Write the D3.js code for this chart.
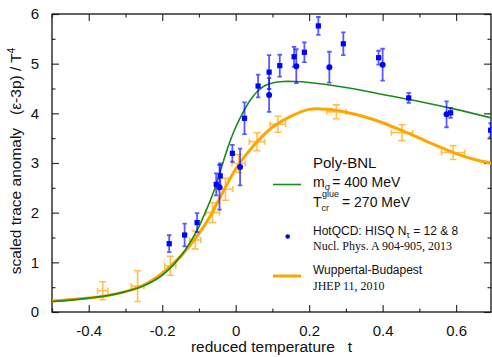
<!DOCTYPE html>
<html>
<head>
<meta charset="utf-8">
<script src="https://cdn.jsdelivr.net/npm/d3@7"></script>
<style>
  body { margin: 0; background: #fff; }
  text { font-family: "Liberation Sans", Arial, sans-serif; fill: #111; }
  .serif { font-family: "Liberation Serif", "Times New Roman", serif; }
</style>
</head>
<body>
<div id="chart"></div>
<script>
// HotQCD HISQ, squares
var sqT = [-0.181, -0.139, -0.105, -0.053, -0.042, -0.009, 0.024, 0.061, 0.091, 0.12, 0.159, 0.187, 0.225, 0.293, 0.389, 0.471, 0.585, 0.694];
var sqE = [1.375, 1.55, 1.80, 2.57, 2.74, 3.195, 3.90, 4.55, 4.83, 4.96, 5.14, 5.23, 5.76, 5.40, 5.12, 4.31, 4.01, 3.66];
var sqErr = [0.17, 0.23, 0.19, 0.22, 0.25, 0.17, 0.32, 0.23, 0.34, 0.22, 0.2, 0.2, 0.18, 0.23, 0.14, 0.1, 0.1, 0.14];
// HotQCD HISQ, circles
var ciT = [-0.044, 0.012, 0.091, 0.165, 0.255, 0.40, 0.574];
var ciE = [2.51, 2.92, 4.37, 4.95, 4.93, 4.98, 3.98];
var ciErr = [0.45, 0.37, 0.34, 0.34, 0.31, 0.32, 0.26];
// Wuppertal-Budapest points
var wbT = [-0.362, -0.267, -0.178, -0.11, -0.063, -0.028, 0.008, 0.058, 0.115, 0.274, 0.453, 0.592];
var wbE = [0.43, 0.52, 0.93, 1.45, 2.00, 2.47, 2.99, 3.43, 3.78, 4.03, 3.61, 3.21];
var wbEErr = [0.18, 0.31, 0.19, 0.18, 0.2, 0.22, 0.18, 0.18, 0.16, 0.14, 0.16, 0.14];
var wbTErr = [0.014, 0.017, 0.015, 0.015, 0.019, 0.02, 0.018, 0.021, 0.021, 0.026, 0.029, 0.032];
// curves
var polyT = [-0.5, -0.45, -0.4, -0.35, -0.3, -0.25, -0.2, -0.15, -0.12, -0.1, -0.08, -0.06, -0.04, -0.02, 0, 0.02, 0.04, 0.06, 0.08, 0.1, 0.13, 0.16, 0.2, 0.3, 0.4, 0.5, 0.6, 0.7];
var polyE = [0.21, 0.24, 0.28, 0.33, 0.41, 0.53, 0.74, 1.12, 1.45, 1.72, 2.05, 2.42, 2.88, 3.34, 3.72, 4.02, 4.27, 4.45, 4.56, 4.61, 4.64, 4.64, 4.62, 4.52, 4.38, 4.24, 4.08, 3.9];
var wbFitT = [-0.5, -0.45, -0.4, -0.35, -0.3, -0.25, -0.2, -0.15, -0.1, -0.07, -0.05, -0.025, 0, 0.05, 0.1, 0.15, 0.2, 0.25, 0.3, 0.35, 0.4, 0.45, 0.5, 0.55, 0.6, 0.65, 0.7];
var wbFitE = [0.22, 0.25, 0.28, 0.33, 0.41, 0.54, 0.78, 1.12, 1.58, 1.92, 2.2, 2.55, 2.88, 3.36, 3.72, 3.94, 4.08, 4.08, 4.02, 3.93, 3.81, 3.66, 3.50, 3.34, 3.19, 3.07, 2.99];

var xMajor = [-0.4, -0.2, 0, 0.2, 0.4, 0.6];
var xMinor = [-0.5, -0.3, -0.1, 0.1, 0.3, 0.5];
var yMajor = [0, 1, 2, 3, 4, 5, 6];
var yMinor = [0.5, 1.5, 2.5, 3.5, 4.5, 5.5];

var svgWidth = 492, svgHeight = 357;
var pLeft = 52, pRight = 491, pTop = 14, pBottom = 312;

var svg = d3.select("#chart").append("svg")
  .attr("width", svgWidth)
  .attr("height", svgHeight);

var x = d3.scaleLinear().domain([-0.5, 0.695]).range([pLeft, pRight]);
var y = d3.scaleLinear().domain([0, 6]).range([pBottom, pTop]);

svg.append("clipPath").attr("id", "clip")
  .append("rect").attr("x", pLeft).attr("y", pTop).attr("width", pRight - pLeft).attr("height", pBottom - pTop);

// axes, ticks pointing inward
function fmt(d) { return d === 0 ? "0" : d.toFixed(1); }
svg.append("g").attr("transform", `translate(0,${pBottom})`)
  .call(d3.axisBottom(x).tickValues(xMajor).tickSize(-7).tickPadding(13).tickFormat(fmt));
svg.append("g").attr("transform", `translate(0,${pBottom})`)
  .call(d3.axisBottom(x).tickValues(xMinor).tickSize(-3.5).tickFormat(""));
svg.append("g").attr("transform", `translate(0,${pTop})`)
  .call(d3.axisTop(x).tickValues(xMajor).tickSize(-7).tickFormat(""));
svg.append("g").attr("transform", `translate(0,${pTop})`)
  .call(d3.axisTop(x).tickValues(xMinor).tickSize(-3.5).tickFormat(""));
svg.append("g").attr("transform", `translate(${pLeft},0)`)
  .call(d3.axisLeft(y).tickValues(yMajor).tickSize(-7).tickPadding(13).tickFormat(d => String(d)));
svg.append("g").attr("transform", `translate(${pLeft},0)`)
  .call(d3.axisLeft(y).tickValues(yMinor).tickSize(-3.5).tickFormat(""));
svg.append("g").attr("transform", `translate(${pRight},0)`)
  .call(d3.axisRight(y).tickValues(yMajor).tickSize(-7).tickFormat(""));
svg.append("g").attr("transform", `translate(${pRight},0)`)
  .call(d3.axisRight(y).tickValues(yMinor).tickSize(-3.5).tickFormat(""));

svg.selectAll(".domain").remove();
svg.selectAll(".tick line").attr("stroke", "#333").attr("stroke-width", 1.2);
svg.selectAll(".tick text").attr("font-size", "15px").attr("fill", "#111")
  .attr("font-family", "Liberation Sans, Arial, sans-serif");

svg.append("rect")
  .attr("x", pLeft).attr("y", pTop)
  .attr("width", pRight - pLeft).attr("height", pBottom - pTop)
  .attr("fill", "none").attr("stroke", "#111").attr("stroke-width", 1.3);

var plot = svg.append("g").attr("clip-path", "url(#clip)");

// Wuppertal-Budapest error crosses
var wb = wbT.map((t, i) => ({t: t, e: wbE[i], de: wbEErr[i], dt: wbTErr[i]}));
var wbG = plot.append("g").attr("stroke", "#ffaa1a").attr("stroke-opacity", 0.75)
  .attr("stroke-width", 1.6).attr("fill", "none");
wb.forEach(function(d) {
  var cx = x(d.t), cy = y(d.e);
  var y0 = y(d.e - d.de), y1 = y(d.e + d.de);
  var x0 = x(d.t - d.dt), x1 = x(d.t + d.dt);
  wbG.append("path").attr("d",
    `M${cx},${y0}V${y1}M${cx - 3.5},${y0}h7M${cx - 3.5},${y1}h7` +
    `M${x0},${cy}H${x1}M${x0},${cy - 3}v6M${x1},${cy - 3}v6`);
});

// curves
var line = d3.line().x(d => x(d[0])).y(d => y(d[1])).curve(d3.curveCatmullRom.alpha(0.5));
plot.append("path")
  .datum(wbFitT.map((t, i) => [t, wbFitE[i]]))
  .attr("d", line)
  .attr("fill", "none").attr("stroke", "#ffa500").attr("stroke-width", 3);
plot.append("path")
  .datum(polyT.map((t, i) => [t, polyE[i]]))
  .attr("d", line)
  .attr("fill", "none").attr("stroke", "#1a8c1a").attr("stroke-width", 1.6);

// HotQCD points
function errBars(g, ts, es, errs) {
  ts.forEach(function(t, i) {
    var cx = x(t), y0 = y(es[i] - errs[i]), y1 = y(es[i] + errs[i]);
    g.append("path").attr("d", `M${cx},${y0}V${y1}M${cx - 2.2},${y0}h4.4M${cx - 2.2},${y1}h4.4`);
  });
}
var barG = plot.append("g").attr("stroke", "#0000ff").attr("stroke-opacity", 0.65)
  .attr("stroke-width", 1.8).attr("fill", "none");
errBars(barG, sqT, sqE, sqErr);
errBars(barG, ciT, ciE, ciErr);

plot.selectAll("rect.sq").data(sqT).enter().append("rect")
  .attr("class", "sq")
  .attr("x", d => x(d) - 2.6)
  .attr("y", (d, i) => y(sqE[i]) - 2.6)
  .attr("width", 5.2).attr("height", 5.2)
  .attr("fill", "#0000ff");
plot.selectAll("circle.ci").data(ciT).enter().append("circle")
  .attr("class", "ci")
  .attr("cx", d => x(d))
  .attr("cy", (d, i) => y(ciE[i]))
  .attr("r", 3)
  .attr("fill", "#0000ff");

// legend
var lg = svg.append("g");
lg.append("text").attr("x", 313).attr("y", 168).attr("font-size", "15px").text("Poly-BNL");
lg.append("line").attr("x1", 273).attr("x2", 301).attr("y1", 184.5).attr("y2", 184.5)
  .attr("stroke", "#1a8c1a").attr("stroke-width", 1.6);
var m = lg.append("text").attr("x", 313).attr("y", 187).attr("font-size", "14px");
m.append("tspan").text("m");
m.append("tspan").attr("font-size", "9px").attr("dy", 3).text("σ");
m.append("tspan").attr("dy", -3).attr("dx", 2).text("= 400 MeV");
var tc = lg.append("text").attr("x", 313).attr("y", 207).attr("font-size", "14px");
tc.append("tspan").text("T");
tc.append("tspan").attr("font-size", "9px").attr("dy", 4).text("cr");
tc.append("tspan").attr("font-size", "9px").attr("x", 322).attr("dy", -14).text("glue");
tc.append("tspan").attr("x", 342).attr("dy", 10).text("= 270 MeV");

lg.append("circle").attr("cx", 287.7).attr("cy", 236.5).attr("r", 2.3).attr("fill", "#0000ff");
var hq = lg.append("text").attr("x", 313).attr("y", 235).attr("font-size", "12px");
hq.append("tspan").text("HotQCD: HISQ N");
hq.append("tspan").attr("font-size", "9px").attr("dy", 3).text("τ");
hq.append("tspan").attr("dy", -3).text(" = 12 & 8");
lg.append("text").attr("class", "serif").attr("x", 313).attr("y", 250).attr("font-size", "12px")
  .text("Nucl. Phys. A 904-905, 2013");

lg.append("line").attr("x1", 273).attr("x2", 301).attr("y1", 276).attr("y2", 276)
  .attr("stroke", "#ffa500").attr("stroke-width", 3);
lg.append("text").attr("x", 313).attr("y", 274.3).attr("font-size", "12px").text("Wuppertal-Budapest");
lg.append("text").attr("class", "serif").attr("x", 313).attr("y", 289.5).attr("font-size", "12px")
  .text("JHEP 11, 2010");

// axis titles
svg.append("text")
  .attr("x", (pLeft + pRight) / 2).attr("y", 352)
  .attr("text-anchor", "middle").attr("font-size", "15.5px")
  .style("white-space", "pre")
  .text("reduced temperature   t");

var yl = svg.append("text")
  .attr("transform", "translate(21,161) rotate(-90)")
  .attr("text-anchor", "middle").attr("font-size", "15.5px")
  .style("white-space", "pre");
yl.append("tspan").text("scaled trace anomaly   (ε-3p) / T");
yl.append("tspan").attr("font-size", "10px").attr("dy", -6).text("4");
</script>
</body>
</html>
